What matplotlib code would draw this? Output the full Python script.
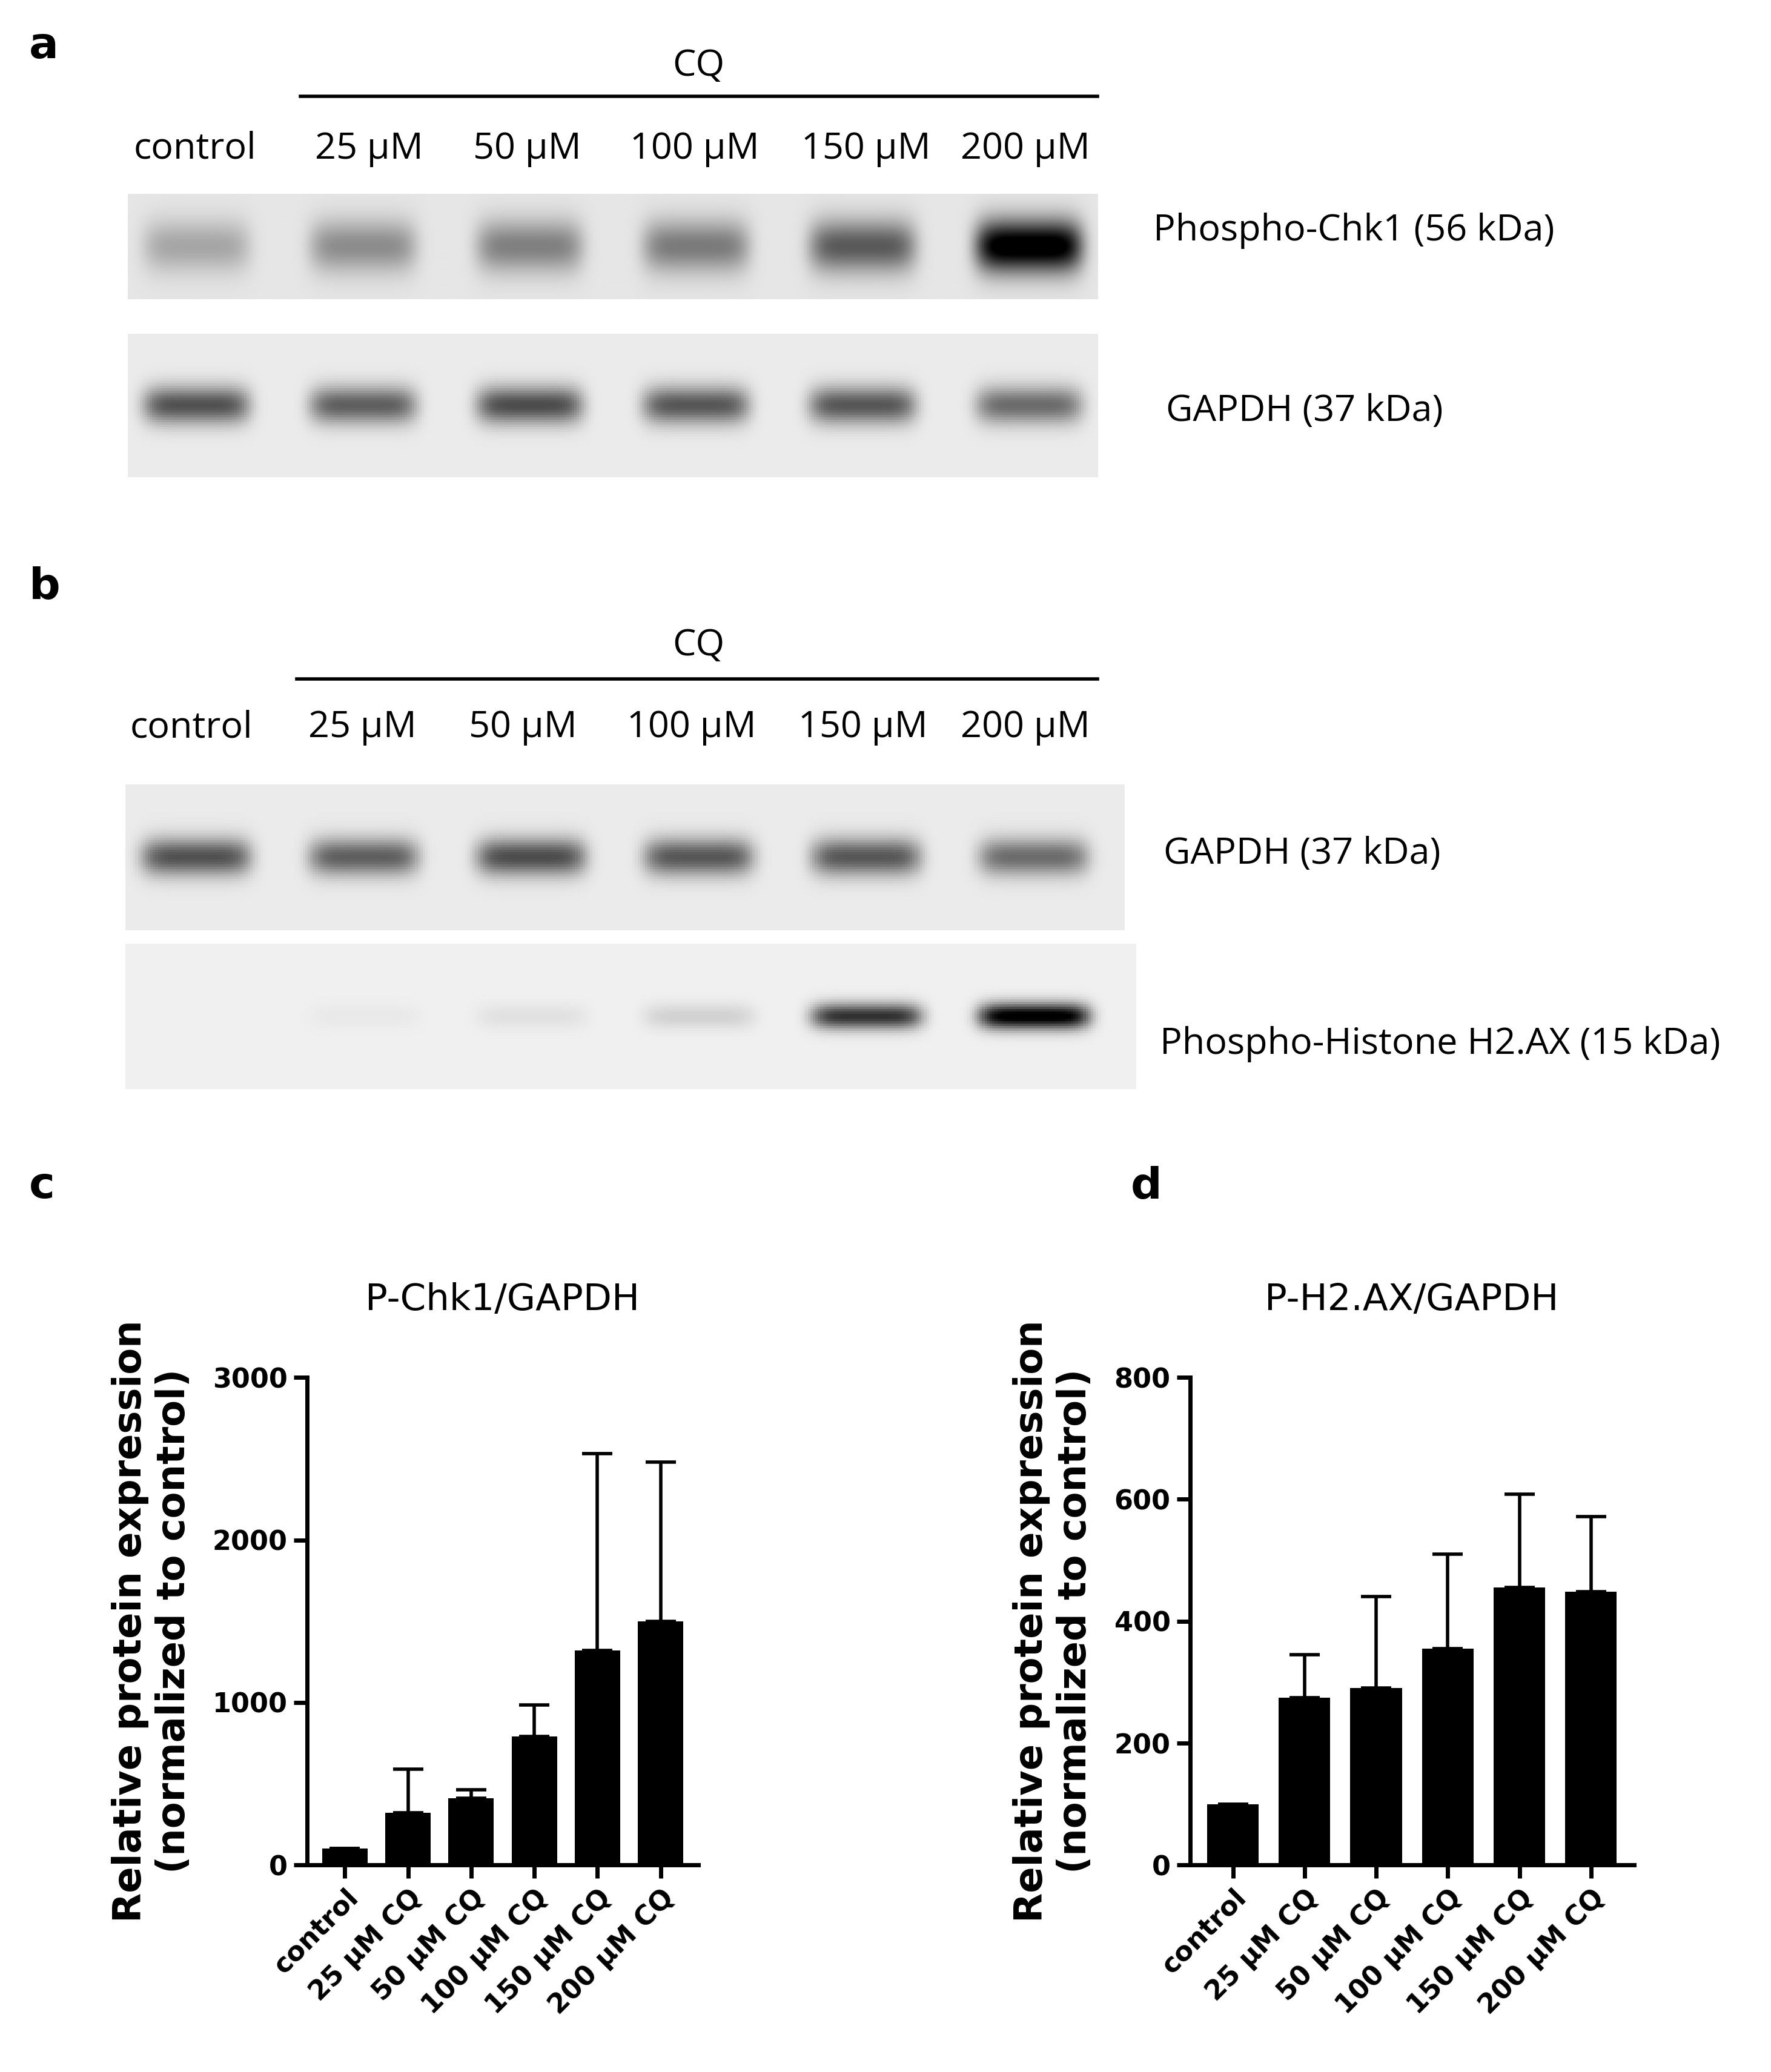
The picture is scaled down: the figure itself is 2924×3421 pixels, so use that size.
import numpy as np
import matplotlib
matplotlib.use("Agg")
import matplotlib.pyplot as plt

plt.rcParams['font.family'] = ['Open Sans', 'DejaVu Sans']

lanes = ["control", "25 µM", "50 µM", "100 µM", "150 µM", "200 µM"]
bar_cats = ["control", "25 µM CQ", "50 µM CQ", "100 µM CQ", "150 µM CQ", "200 µM CQ"]
chk1_band = [0.25, 0.35, 0.40, 0.42, 0.55, 1.0]
gapdh_band = [0.60, 0.55, 0.62, 0.58, 0.58, 0.50]
h2ax_band = [0.0, 0.03, 0.06, 0.12, 0.75, 1.0]
chk1_mean = [100, 320, 410, 790, 1320, 1500]
chk1_err = [0, 270, 55, 195, 1210, 980]
h2ax_mean = [100, 275, 290, 355, 455, 448]
h2ax_err = [0, 70, 150, 155, 153, 124]

W, H = 1344, 1572
fig = plt.figure(figsize=(14.62, 17.105), dpi=200)

def fx(x): return x / W
def fy(y): return 1 - y / H

def txt(x, y, s, **kw):
    kw.setdefault('fontsize', 22)
    kw.setdefault('ha', 'center'); kw.setdefault('va', 'center')
    fig.text(fx(x), fy(y), s, **kw)

def blot(x0, x1, y0, y1, inten, bg, width, lane_x0, lane_x1):
    ax = fig.add_axes([fx(x0), fy(y1), fx(x1) - fx(x0), fy(y0) - fy(y1)])
    nx, ny = 400, 60
    xs = np.linspace(0, 1, nx); ys = np.linspace(0, 1, ny)
    X, Y = np.meshgrid(xs, ys)
    img = np.full((ny, nx), bg)
    n = len(inten)
    centers = np.linspace(lane_x0, lane_x1, n)
    for c, v in zip(centers, inten):
        img += v * np.exp(-((X - c) / 0.055) ** 6) * np.exp(-((Y - 0.5) / width) ** 2)
    ax.imshow(np.clip(img, 0, 1), cmap='gray_r', vmin=0, vmax=1, aspect='auto')
    ax.axis('off')

def header(ytitle, yline, ylab, xl0, xl1, xs):
    txt(530, ytitle, "CQ")
    fig.add_artist(plt.Line2D([fx(xl0), fx(xl1)], [fy(yline)] * 2, color='black', lw=2))
    for x, s in zip(xs, lanes):
        txt(x, ylab, s)

txt(22, 35, "a", fontsize=26, fontweight='bold', ha='left', family='DejaVu Sans')
header(50, 73, 113, 228, 833, [148, 280, 400, 527, 657, 778])
blot(97, 833, 147, 227, chk1_band, 0.10, 0.25, 0.07, 0.93)
txt(875, 175, "Phospho-Chk1 (56 kDa)", ha='left')
blot(97, 833, 253, 362, gapdh_band, 0.08, 0.13, 0.07, 0.93)
txt(885, 312, "GAPDH (37 kDa)", ha='left')

txt(22, 445, "b", fontsize=26, fontweight='bold', ha='left', family='DejaVu Sans')
header(490, 515, 552, 225, 833, [145, 275, 397, 525, 655, 778])
blot(95, 853, 595, 706, gapdh_band, 0.08, 0.13, 0.07, 0.91)
txt(883, 648, "GAPDH (37 kDa)", ha='left')
blot(95, 862, 716, 826, h2ax_band, 0.06, 0.09, 0.07, 0.90)
txt(880, 792, "Phospho-Histone H2.AX (15 kDa)", ha='left')

txt(22, 900, "c", fontsize=26, fontweight='bold', ha='left', family='DejaVu Sans')
txt(858, 900, "d", fontsize=26, fontweight='bold', ha='left', family='DejaVu Sans')

def bars(x0, x1, mean, err, ymax, step, title):
    ax = fig.add_axes([fx(x0), fy(1415), fx(x1) - fx(x0), fy(1045) - fy(1415)])
    x = np.arange(len(mean))
    ax.bar(x, mean, width=0.72, color='black')
    ax.errorbar(x, mean, yerr=[np.zeros(len(err)), err], fmt='none', ecolor='black',
                capsize=9, elinewidth=2, capthick=2)
    ax.set_ylim(0, ymax)
    ax.set_xlim(-0.6, len(mean) - 0.4)
    ax.set_yticks(np.arange(0, ymax + 1, step))
    ax.set_xticks(x)
    ax.set_xticklabels(bar_cats, rotation=45, ha='right', rotation_mode='anchor',
                       fontsize=16, fontweight='bold', family='DejaVu Sans')
    for t in ax.get_yticklabels():
        t.set_fontweight('bold'); t.set_fontsize(16); t.set_family('DejaVu Sans')
    for s in ['top', 'right']:
        ax.spines[s].set_visible(False)
    for s in ['left', 'bottom']:
        ax.spines[s].set_linewidth(2.5)
    ax.tick_params(width=2.5, length=8)
    ax.set_ylabel("Relative protein expression\n(normalized to control)", fontsize=23,
                  fontweight='bold', family='DejaVu Sans', labelpad=12)
    ax.set_title(title, fontsize=22, family='DejaVu Sans', pad=40)

bars(233, 530, chk1_mean, chk1_err, 3000, 1000, "P-Chk1/GAPDH")
bars(903, 1240, h2ax_mean, h2ax_err, 800, 200, "P-H2.AX/GAPDH")

fig.savefig("out.png", dpi=200, facecolor='white')
